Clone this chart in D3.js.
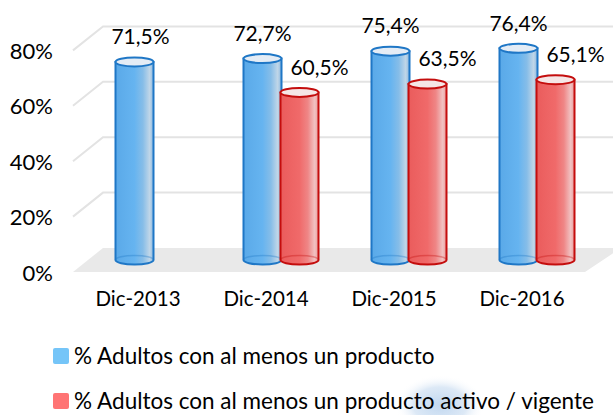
<!DOCTYPE html>
<html>
<head>
<meta charset="utf-8">
<script src="https://cdnjs.cloudflare.com/ajax/libs/d3/7.8.5/d3.min.js"></script>
<style>
  body { margin: 0; background: #fff; }
  text { font-family: Lato, "Open Sans", sans-serif; fill: #000; }
</style>
</head>
<body>
<div class="chart"></div>
<script>
// chart data
var categories = ["Dic-2013", "Dic-2014", "Dic-2015", "Dic-2016"];
var seriesNames = [
  "% Adultos con al menos un producto",
  "% Adultos con al menos un producto activo / vigente"
];
var adultsAny = [0.715, 0.727, 0.754, 0.764];
var adultsActive = [null, 0.605, 0.635, 0.651];
var anyLabels = ["71,5%", "72,7%", "75,4%", "76,4%"];
var activeLabels = [null, "60,5%", "63,5%", "65,1%"];
var yTicks = [0, 0.2, 0.4, 0.6, 0.8];

var svgWidth = 613;
var svgHeight = 415;

var svg = d3.select(".chart")
  .append("svg")
  .attr("width", svgWidth)
  .attr("height", svgHeight);

var defs = svg.append("defs");

// front plane of the 3d box
var left = 73, right = 585, floorY = 272;
var depthX = 30, depthY = -24;

var x = d3.scaleBand()
  .domain(categories)
  .range([left, right]);

var y = d3.scaleLinear()
  .domain([0, 0.8])
  .range([floorY, 50.4]);

// gradients for the cylinder bodies
function bodyGradient(id, stops) {
  var g = defs.append("linearGradient")
    .attr("id", id)
    .attr("x1", "0%").attr("x2", "100%")
    .attr("y1", "0%").attr("y2", "0%");
  stops.forEach(function (s) {
    g.append("stop").attr("offset", s[0]).attr("stop-color", s[1]);
  });
}
bodyGradient("blueBody", [["0%", "#5aa9e8"], ["50%", "#66b4f0"], ["72%", "#86bde8"], ["90%", "#c0d6e8"], ["100%", "#8ab8e0"]]);
bodyGradient("redBody", [["0%", "#ea5c5c"], ["50%", "#f06a6a"], ["72%", "#ef8686"], ["90%", "#f1c2c2"], ["100%", "#eb9a9a"]]);

// faint logo in the lower right corner
var wm = defs.append("radialGradient").attr("id", "wm");
wm.append("stop").attr("offset", "0%").attr("stop-color", "#c2d8f0");
wm.append("stop").attr("offset", "60%").attr("stop-color", "#dde9f6");
wm.append("stop").attr("offset", "100%").attr("stop-color", "#fff").attr("stop-opacity", 0);
svg.append("ellipse")
  .attr("cx", 440).attr("cy", 405)
  .attr("rx", 45).attr("ry", 30)
  .attr("fill", "url(#wm)");

// floor
svg.append("polygon")
  .attr("points", [
    [left, floorY], [right, floorY],
    [right + depthX + 6, floorY + depthY], [left + depthX, floorY + depthY]
  ].map(function (p) { return p.join(","); }).join(" "))
  .attr("fill", "#e9e9e9");

// gridlines on side and back wall
yTicks.slice(1).forEach(function (t) {
  svg.append("path")
    .attr("d", "M" + left + "," + y(t) +
      "L" + (left + depthX) + "," + (y(t) + depthY) +
      "L" + svgWidth + "," + (y(t) + depthY))
    .attr("fill", "none")
    .attr("stroke", "#e3e3e3")
    .attr("stroke-width", 2);
});

// y axis
var leftAxis = d3.axisLeft(y)
  .tickValues(yTicks)
  .tickFormat(d3.format(".0%"))
  .tickSize(0)
  .tickPadding(0);

var yAxis = svg.append("g")
  .attr("transform", "translate(53, 1)")
  .call(leftAxis);
yAxis.select(".domain").remove();
yAxis.selectAll("text")
  .style("font-size", "22px")
  .style("font-family", "Lato, sans-serif")
  .attr("fill", "#000");

// x axis
var bottomAxis = d3.axisBottom(x)
  .tickSize(0)
  .tickPadding(0);

var xAxis = svg.append("g")
  .attr("transform", "translate(1, 291)")
  .call(bottomAxis);
xAxis.select(".domain").remove();
xAxis.selectAll("text")
  .style("font-size", "20.5px")
  .style("font-family", "Lato, sans-serif")
  .attr("fill", "#000");

// cylinders sit half way into the box
var midX = depthX / 2 + 1, midY = depthY / 2;
var r = 19, ry = 4.5, barOffset = 18.5;

function cylinder(cx, value, bodyFill, stroke, topFill) {
  var base = y(0) + midY;
  var top = y(value) + midY;
  var g = svg.append("g");

  g.append("path")
    .attr("d", "M" + (cx - r) + "," + top +
      "L" + (cx - r) + "," + base +
      "A" + r + "," + ry + " 0 0 0 " + (cx + r) + "," + base +
      "L" + (cx + r) + "," + top + "Z")
    .attr("fill", bodyFill)
    .attr("stroke", stroke)
    .attr("stroke-width", 2);

  g.append("ellipse")
    .attr("cx", cx).attr("cy", top)
    .attr("rx", r).attr("ry", ry)
    .attr("fill", topFill)
    .attr("stroke", stroke)
    .attr("stroke-width", 2);

  // back half of bottom rim shows through a bit
  g.append("path")
    .attr("d", "M" + (cx - r) + "," + base +
      "A" + r + "," + ry + " 0 0 1 " + (cx + r) + "," + base)
    .attr("fill", "none")
    .attr("stroke", stroke)
    .attr("stroke-opacity", 0.35)
    .attr("stroke-width", 1.5);
}

categories.forEach(function (c, i) {
  var center = x(c) + x.bandwidth() / 2 + midX;

  cylinder(center - barOffset, adultsAny[i], "url(#blueBody)", "#1f77c6", "#e4ecf5");
  if (adultsActive[i] !== null) {
    cylinder(center + barOffset, adultsActive[i], "url(#redBody)", "#c40d0d", "#f5e6e6");
  }
});

// data labels
var labelGroup = svg.append("g")
  .style("font-size", "21px")
  .attr("text-anchor", "middle");

categories.forEach(function (c, i) {
  var center = x(c) + x.bandwidth() / 2 + midX;
  labelGroup.append("text")
    .attr("x", center - barOffset + (i === 0 ? 6 : 0))
    .attr("y", y(adultsAny[i]) + midY - 25)
    .attr("dy", "0.35em")
    .text(anyLabels[i]);
  if (adultsActive[i] !== null) {
    labelGroup.append("text")
      .attr("x", center + barOffset + 20)
      .attr("y", y(adultsActive[i]) + midY - 25)
      .attr("dy", "0.35em")
      .text(activeLabels[i]);
  }
});

// legend
var legendColors = ["#75c5f8", "#ff7474"];
var legend = svg.append("g");
seriesNames.forEach(function (name, i) {
  var row = legend.append("g")
    .attr("transform", "translate(53," + (348 + i * 45) + ")");
  row.append("rect")
    .attr("width", 16).attr("height", 16)
    .attr("rx", 2)
    .attr("fill", legendColors[i]);
  row.append("text")
    .attr("x", 21)
    .attr("y", 8)
    .attr("dy", "0.35em")
    .style("font-size", "22.5px")
    .text(name);
});
</script>
</body>
</html>
